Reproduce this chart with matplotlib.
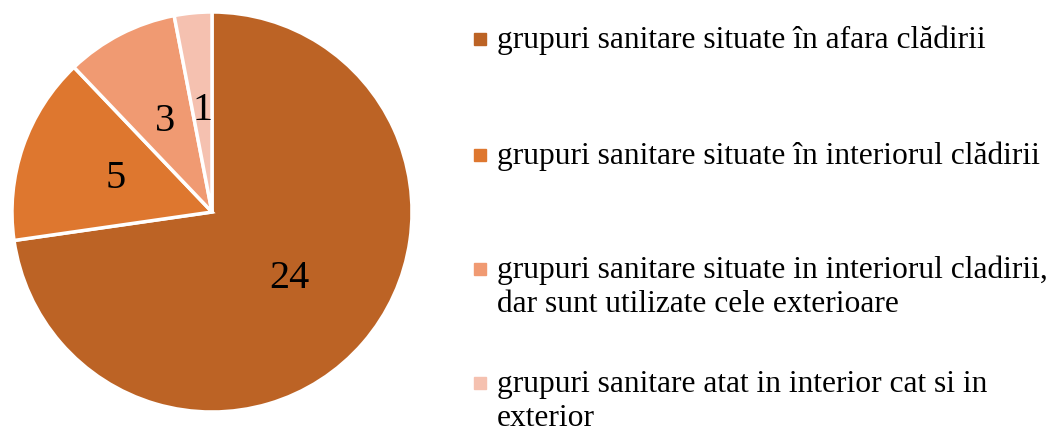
import matplotlib.pyplot as plt
from matplotlib.patches import Rectangle

plt.rcParams['font.family'] = ['Liberation Serif', 'DejaVu Serif']

# Data
categories = [
    'grupuri sanitare situate în afara clădirii',
    'grupuri sanitare situate în interiorul clădirii',
    'grupuri sanitare situate in interiorul cladirii,\ndar sunt utilizate cele exterioare',
    'grupuri sanitare atat in interior cat si in\nexterior',
]
values = [24, 5, 3, 1]
colors = ['#BC6325', '#DE772F', '#F09A72', '#F5C1B0']

W, H = 1057, 430
fig = plt.figure(figsize=(W / 100, H / 100), dpi=100)

# pie: centre (212, 212) px from top, radius 200 px
cx, cy, r = 212, 212, 200
ax = fig.add_axes([(cx - r) / W, (H - cy - r) / H, 2 * r / W, 2 * r / H])
total = sum(values)
wedges, texts, autotexts = ax.pie(
    values, colors=colors, startangle=90, counterclock=False,
    autopct=lambda p: '%d' % round(p * total / 100), pctdistance=0.51,
    wedgeprops=dict(edgecolor='white', linewidth=2.5),
    textprops=dict(fontsize=29, color='black'))
ax.set_xlim(-1, 1)
ax.set_ylim(-1, 1)
ax.set_aspect('equal')

# legend drawn by hand (Excel-like, marker aligned with first line)
baselines = [48, 164, 278, 392]
sq = 12
for lab, col, yb in zip(categories, colors, baselines):
    yc = yb - 9
    fig.patches.append(Rectangle(((479.5 - sq / 2) / W, 1 - (yc + sq / 2) / H),
                                 sq / W, sq / H, color=col,
                                 transform=fig.transFigure, figure=fig))
    lines = lab.split('\n')
    for i, line in enumerate(lines):
        fig.text(497 / W, 1 - (yb + i * 34) / H, line, fontsize=22.7,
                 va='baseline', ha='left', color='black')

fig.savefig('out.png', dpi=100)
